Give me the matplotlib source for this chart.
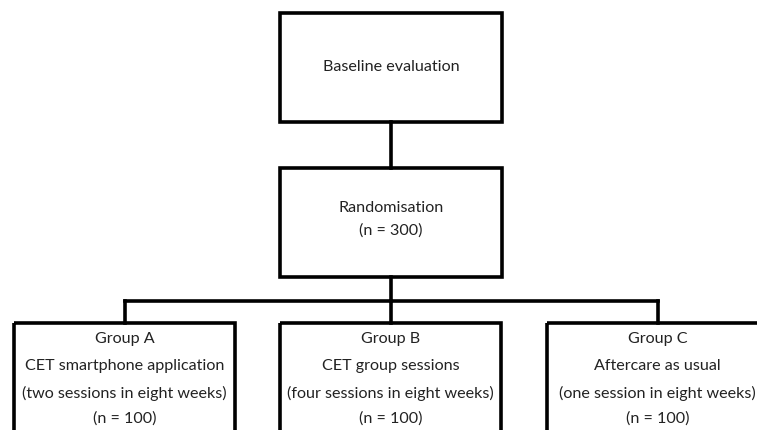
import matplotlib.pyplot as plt
from matplotlib.patches import Rectangle

plt.rcParams['font.family'] = ['Lato', 'DejaVu Sans']

# box texts
top_labels = ["Baseline evaluation", "Randomisation\n(n = 300)"]
group_names = ["Group A", "Group B", "Group C"]
group_treatments = ["CET smartphone application", "CET group sessions", "Aftercare as usual"]
group_sessions = ["(two sessions in eight weeks)", "(four sessions in eight weeks)",
                  "(one session in eight weeks)"]
group_n = [100, 100, 100]

W, H = 757, 430
fig = plt.figure(figsize=(W / 100, H / 100), dpi=100)
ax = fig.add_axes([0, 0, 1, 1])
ax.set_xlim(0, W)
ax.set_ylim(H, 0)
ax.axis("off")

lw = 2.6
fs = 11.6
tc = "#222222"


def box(x0, y0, x1, y1):
    ax.add_patch(Rectangle((x0, y0), x1 - x0, y1 - y0, fill=False,
                           edgecolor="black", linewidth=lw, joinstyle="miter"))


# top boxes
box(280, 13, 502, 122)
ax.text(391, 67, top_labels[0], ha="center", va="center", fontsize=fs, color=tc)
box(280, 168, 502, 277)
lines = top_labels[1].split("\n")
ax.text(391, 208, lines[0], ha="center", va="center", fontsize=fs, color=tc)
ax.text(391, 231, lines[1], ha="center", va="center", fontsize=fs, color=tc)

# connectors
ax.plot([391, 391], [122, 168], color="black", lw=lw)
ax.plot([391, 391], [277, 301], color="black", lw=lw)
ax.plot([125, 658], [301, 301], color="black", lw=lw, solid_capstyle="projecting")

group_lefts = [14, 280, 547]
box_w = 221
for i, left in enumerate(group_lefts):
    cx = left + box_w / 2
    ax.plot([cx, cx], [301, 323], color="black", lw=lw)
    box(left, 323, left + box_w, 460)
    texts = [group_names[i], group_treatments[i], group_sessions[i], f"(n = {group_n[i]})"]
    for t, y in zip(texts, [339, 366, 393, 419]):
        ax.text(cx, y, t, ha="center", va="center", fontsize=fs, color=tc)

fig.savefig("out.png", dpi=100)
